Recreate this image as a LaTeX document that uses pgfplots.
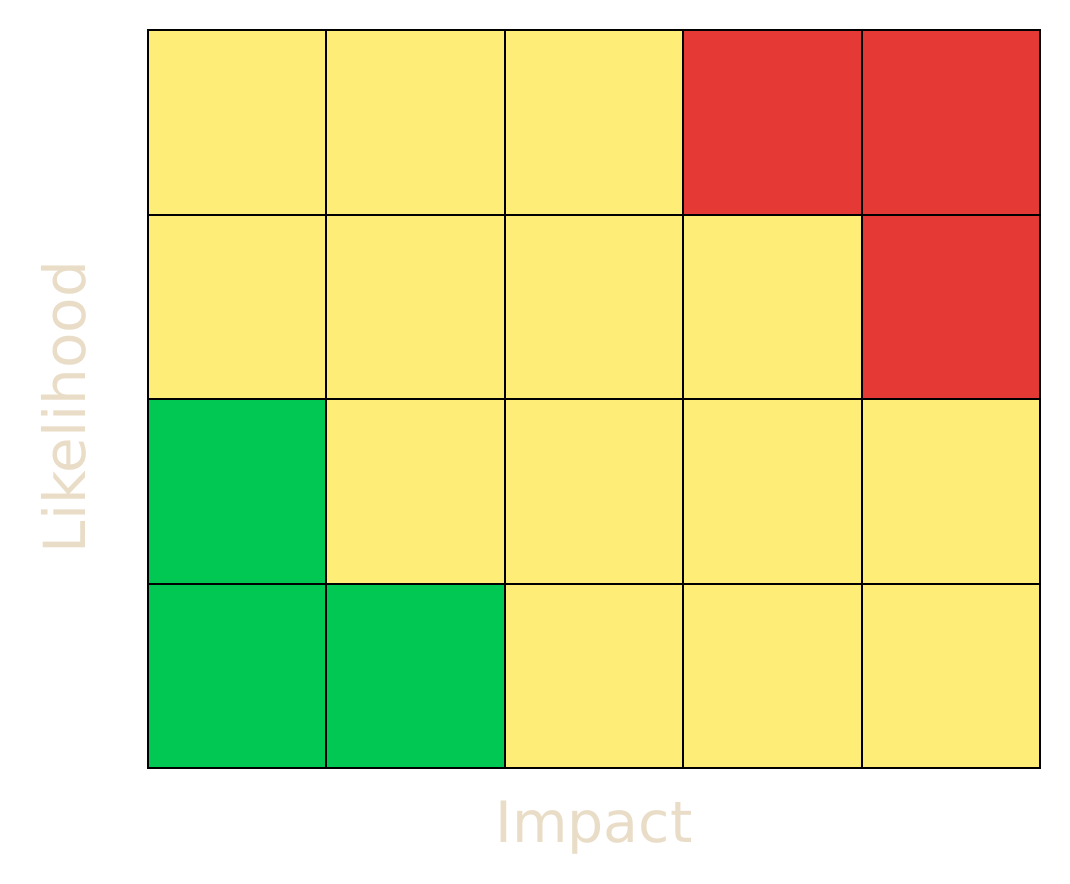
\documentclass[border=0pt]{standalone}
\usepackage{pgfplots}
\pgfplotsset{compat=1.18}
\usepackage{fontspec}
\setmainfont{DejaVu Sans}
\definecolor{lab}{RGB}{233,221,200}
\begin{document}
\begin{tikzpicture}
\useasboundingbox (-74pt,-57.5pt) rectangle (461pt,384pt);
\begin{axis}[
  at={(0pt,0pt)}, anchor=south west,
  scale only axis, width=446pt, height=369pt,
  xmin=-0.5, xmax=4.5, ymin=-0.5, ymax=3.5,
  xtick={0.5,1.5,2.5,3.5}, ytick={0.5,1.5,2.5},
  xticklabels={}, yticklabels={},
  major tick length=0pt,
  grid=major,
  grid style={black, line width=1pt},
  major grid style={black, line width=1pt},
  axis on top,
  axis line style={black, line width=0.8pt},
  colormap={risk}{rgb255=(0,200,83) rgb255=(254,238,119) rgb255=(229,57,53)},
  point meta min=0, point meta max=2,
  xlabel={Impact}, ylabel={Likelihood},
  xlabel style={at={(axis description cs:0.5,0)}, anchor=base, yshift=-37pt, font=\fontsize{28.5}{34}\selectfont, text=lab},
  ylabel style={at={(axis description cs:0,0.5)}, anchor=base, yshift=31pt, xshift=-4pt, font=\fontsize{29}{34}\selectfont, text=lab},
]
\addplot[matrix plot*, mesh/cols=5, point meta=explicit] table[meta=c] {
x y c
0 0 0
1 0 0
2 0 1
3 0 1
4 0 1
0 1 0
1 1 1
2 1 1
3 1 1
4 1 1
0 2 1
1 2 1
2 2 1
3 2 1
4 2 2
0 3 1
1 3 1
2 3 1
3 3 2
4 3 2
};
\end{axis}
\end{tikzpicture}
\end{document}
